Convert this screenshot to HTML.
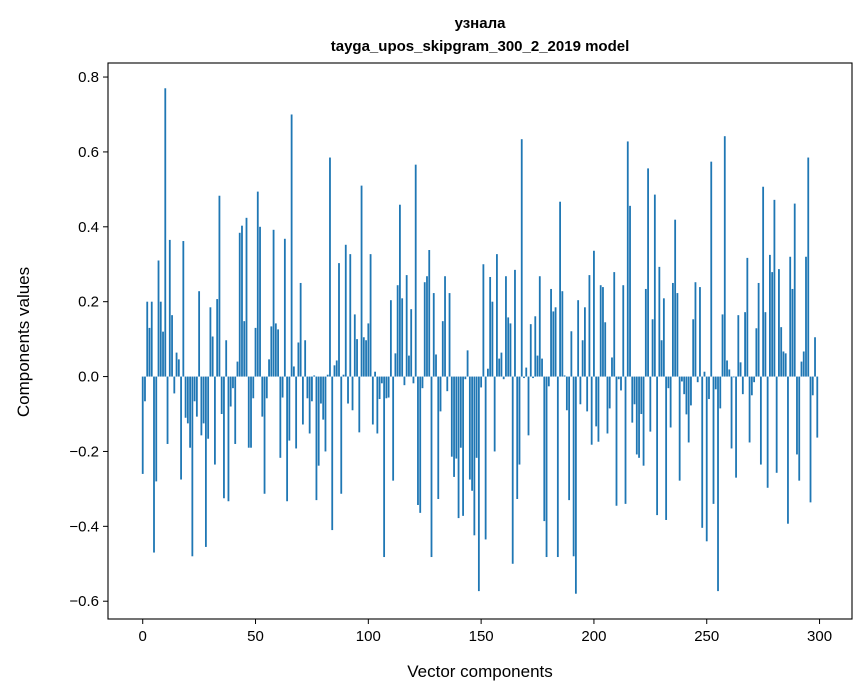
<!DOCTYPE html>
<html><head><meta charset="utf-8">
<style>
html,body{margin:0;padding:0;background:#fff;}
svg{display:block;font-family:"Liberation Sans","DejaVu Sans",sans-serif;}
</style></head>
<body>
<svg id="chart" width="867" height="696" viewBox="0 0 867 696" xmlns="http://www.w3.org/2000/svg">
<rect width="867" height="696" fill="#fff"/>
<text x="480" y="28" text-anchor="middle" font-size="15" font-weight="bold">узнала</text>
<text x="480" y="51" text-anchor="middle" font-size="15" font-weight="bold">tayga_upos_skipgram_300_2_2019 model</text>
<g id="bars"></g>
<g id="axes"></g>
<text x="480" y="677" text-anchor="middle" font-size="17">Vector components</text>
<text transform="translate(29,342) rotate(-90)" text-anchor="middle" font-size="17">Components values</text>
</svg>
<script>
const values = [
-0.26,-0.066,0.20,0.13,0.20,-0.47,-0.28,0.31,0.20,0.12,
0.77,-0.18,0.365,0.164,-0.045,0.064,0.046,-0.275,0.362,-0.11,
-0.125,-0.19,-0.48,-0.066,-0.107,0.228,-0.157,-0.125,-0.455,-0.166,
0.185,0.107,-0.235,0.207,0.483,-0.1,-0.325,0.097,-0.333,-0.08,
-0.031,-0.18,0.04,0.384,0.403,0.148,0.424,-0.19,-0.19,-0.058,
0.13,0.494,0.40,-0.107,-0.313,-0.058,0.046,0.134,0.392,0.142,
0.126,-0.217,-0.056,0.368,-0.333,-0.171,0.70,0.027,-0.192,0.091,
0.25,-0.128,0.097,-0.058,-0.152,-0.066,0.003,-0.33,-0.238,-0.072,
-0.115,-0.2,0.005,0.585,-0.41,0.03,0.043,0.303,-0.313,0.005,
0.352,-0.072,0.327,-0.09,0.166,0.1,-0.149,0.51,0.105,0.097,
0.142,0.327,-0.128,0.013,-0.152,-0.06,-0.018,-0.482,-0.058,-0.056,
0.204,-0.278,0.062,0.244,0.459,0.209,-0.023,0.271,0.056,0.18,
-0.018,0.566,-0.343,-0.364,-0.031,0.252,0.268,0.338,-0.482,0.223,
0.059,-0.327,-0.093,0.148,0.268,-0.039,0.223,-0.214,-0.268,-0.219,
-0.378,-0.19,-0.372,-0.007,0.07,-0.275,-0.305,-0.424,-0.217,-0.573,
-0.029,0.30,-0.435,0.021,0.266,0.20,-0.2,0.327,0.048,0.064,
-0.007,0.268,0.158,0.142,-0.50,0.285,-0.327,-0.235,0.634,-0.004,
0.024,-0.157,0.14,-0.004,0.161,0.056,0.268,0.048,-0.386,-0.482,
-0.026,0.234,0.174,0.185,-0.482,0.467,0.228,0.003,-0.09,-0.33,
0.121,-0.48,-0.58,0.204,-0.074,0.097,0.185,-0.093,0.271,-0.182,
0.336,-0.133,-0.174,0.244,0.239,0.145,-0.152,-0.085,0.051,0.279,
-0.345,-0.007,-0.037,0.244,-0.34,0.628,0.456,-0.123,-0.074,-0.208,
-0.217,-0.1,-0.238,0.234,0.556,-0.147,0.153,0.486,-0.37,0.293,
0.097,0.209,-0.383,-0.031,-0.136,0.25,0.419,0.223,-0.278,-0.013,
-0.047,-0.101,-0.176,-0.077,0.153,0.252,-0.015,0.239,-0.404,0.013,
-0.44,-0.06,0.574,-0.34,-0.034,-0.573,-0.085,0.166,0.642,0.043,
0.019,-0.192,-0.002,-0.27,0.164,0.038,-0.047,0.172,0.317,-0.176,
-0.05,-0.015,0.129,0.25,-0.235,0.507,0.172,-0.297,0.325,0.279,
0.472,-0.257,0.287,0.132,0.067,0.062,-0.393,0.32,0.234,0.462,
-0.208,-0.278,0.04,0.067,0.32,0.585,-0.336,-0.05,0.105,-0.163
];
const xTicks = [0,50,100,150,200,250,300];
const yTicks = [-0.6,-0.4,-0.2,0.0,0.2,0.4,0.6,0.8];
const yTickLabels = ["\u22120.6","\u22120.4","\u22120.2","0.0","0.2","0.4","0.6","0.8"];

const NS = "http://www.w3.org/2000/svg";
const L = 108, R = 852, T = 63, B = 619;
const n = values.length;
const xLo = -0.4, xHi = n - 1 + 0.4, xm = (xHi - xLo) * 0.05;
const x0 = xLo - xm, x1 = xHi + xm;
const vmax = Math.max(0, ...values), vmin = Math.min(0, ...values), ym = (vmax - vmin) * 0.05;
const y0 = vmin - ym, y1 = vmax + ym;
const xs = v => L + (v - x0) / (x1 - x0) * (R - L);
const ys = v => B - (v - y0) / (y1 - y0) * (B - T);

const bars = document.getElementById('bars');
values.forEach((v, i) => {
  const r = document.createElementNS(NS, 'rect');
  const a = xs(i - 0.4), b = xs(i + 0.4);
  r.setAttribute('x', a);
  r.setAttribute('width', b - a);
  r.setAttribute('y', Math.min(ys(v), ys(0)));
  r.setAttribute('height', Math.abs(ys(v) - ys(0)));
  r.setAttribute('fill', '#1f77b4');
  
  
  bars.appendChild(r);
});

const axes = document.getElementById('axes');
const frame = document.createElementNS(NS, 'rect');
frame.setAttribute('x', L); frame.setAttribute('y', T);
frame.setAttribute('width', R - L); frame.setAttribute('height', B - T);
frame.setAttribute('fill', 'none'); frame.setAttribute('stroke', '#000'); frame.setAttribute('stroke-width', '1.1');


axes.appendChild(frame);

xTicks.forEach(t => {
  const X = xs(t);
  const ln = document.createElementNS(NS, 'line');
  ln.setAttribute('x1', X); ln.setAttribute('x2', X); ln.setAttribute('y1', B); ln.setAttribute('y2', B + 5);
  ln.setAttribute('stroke', '#000');
  
  
  axes.appendChild(ln);
  const tx = document.createElementNS(NS, 'text');
  tx.setAttribute('x', X); tx.setAttribute('y', B + 22); tx.setAttribute('text-anchor', 'middle'); tx.setAttribute('font-size', '15');
  tx.textContent = t;
  
  
  axes.appendChild(tx);
});
yTicks.forEach((t, k) => {
  const Y = ys(t);
  const ln = document.createElementNS(NS, 'line');
  ln.setAttribute('x1', L - 5); ln.setAttribute('x2', L); ln.setAttribute('y1', Y); ln.setAttribute('y2', Y);
  ln.setAttribute('stroke', '#000');
  
  
  axes.appendChild(ln);
  const tx = document.createElementNS(NS, 'text');
  tx.setAttribute('x', L - 9); tx.setAttribute('y', Y + 5); tx.setAttribute('text-anchor', 'end'); tx.setAttribute('font-size', '15');
  tx.textContent = yTickLabels[k];
  
  
  axes.appendChild(tx);
});
</script>
</body></html>
